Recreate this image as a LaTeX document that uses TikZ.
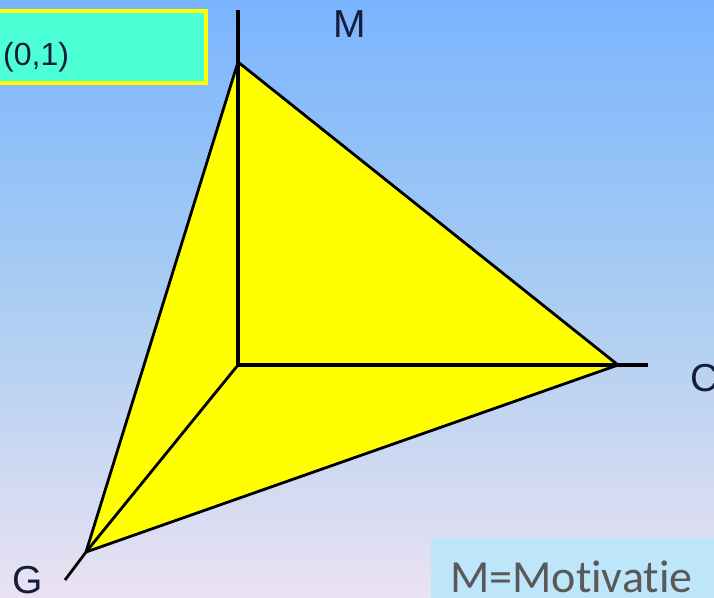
\documentclass[tikz,border=0pt]{standalone}
\usepackage{fontspec}
\setmainfont{Liberation Sans}
\newfontfamily\calibri[Ligatures=NoCommon]{Carlito}
\definecolor{bgtop}{RGB}{122,180,255}
\definecolor{bgmid}{RGB}{170,205,242}
\definecolor{bgbot}{RGB}{234,226,242}
\definecolor{teal}{RGB}{77,255,213}
\definecolor{ylw}{RGB}{255,255,0}
\definecolor{lblue}{RGB}{190,230,250}
\definecolor{txtgray}{RGB}{89,89,89}
\definecolor{lbl}{RGB}{20,30,60}
\begin{document}
\begin{tikzpicture}[x=1pt,y=-1pt,
  axis/.style={line width=4pt,black},
  edge/.style={line width=2.8pt,black,line join=round},
  lab/.style={font=\fontsize{39}{44}\selectfont,text=lbl,inner sep=0pt}]
\useasboundingbox (0,0) rectangle (714,597);
\shade[top color=bgtop,bottom color=bgbot,middle color=bgmid] (0,0) rectangle (714,597);
% teal box
\node[draw=ylw,line width=4pt,fill=teal,minimum width=230pt,minimum height=72pt,anchor=north east,inner sep=0pt] (box) at (208,9) {};
\node[anchor=west,inner sep=0pt,font=\fontsize{32}{36}\selectfont,text=lbl] (t01) at (3,57) {(0,1)};
% coordinates
\coordinate (O) at (238,365);
\coordinate (Mv) at (238,62);
\coordinate (Cv) at (618,365);
\coordinate (Gv) at (86,552);
\coordinate (Mend) at (238,10);
\coordinate (Cend) at (648,365);
\coordinate (Gend) at (65,580);
% triangle
\fill[ylw] (Mv) -- (Cv) -- (Gv) -- cycle;
\draw[edge] (Mv) -- (Cv) -- (Gv) -- cycle;
\draw[edge] (O) -- (Gv);
% axes
\draw[axis] (Mend) -- (O) -- (Cend);
\draw[edge] (Gv) -- (Gend);
% labels
\node[lab] (M) at (350,24) {M};
\node[lab,anchor=west] (C) at (690,378) {C};
\node[lab] (G) at (28,580) {G};
% legend
\node[fill=lblue,anchor=north west,minimum width=290pt,minimum height=62pt,inner sep=0pt] (leg) at (431,538) {};
\node[anchor=base west,inner sep=0pt,font=\calibri\fontsize{46}{50}\selectfont,text=txtgray] (legt) at (450,592) {M=Motivatie};
\end{tikzpicture}
\end{document}
